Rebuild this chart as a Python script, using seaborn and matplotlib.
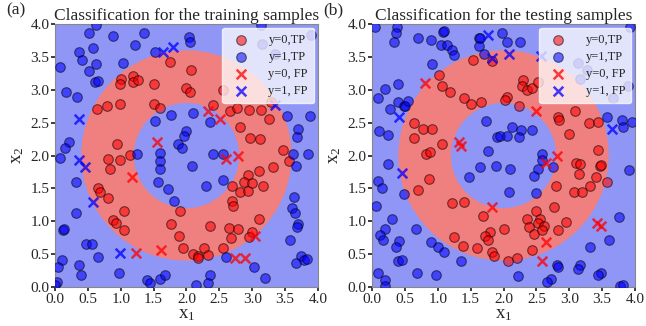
import numpy as np
import pandas as pd
import matplotlib
matplotlib.use('Agg')
import matplotlib.pyplot as plt
from matplotlib.patches import Wedge
import seaborn as sns

# ring region (true class y=0): centre and radii
ring_center = (2.0, 2.0)
ring_inner = 0.8
ring_outer = 1.6

# ---------------- training samples ----------------
train_tp0 = [(1.75,3.43),(2.07,3.30),(1.00,3.16),(0.99,3.09),(1.18,3.21),(1.19,3.12),(1.27,3.15),
             (1.51,3.09),(2.00,3.02),(0.64,2.70),(0.79,2.75),(0.99,2.79),(1.51,2.79),(1.60,2.73),
             (0.94,2.18),(1.14,2.01),(0.80,1.94),(0.99,1.93),(2.05,2.97),(2.56,2.99),(2.41,2.77),
             (2.66,2.68),(2.77,2.73),(2.95,2.69),(3.13,2.69),(3.25,2.55),(2.81,2.43),(2.96,2.26),
             (3.12,2.25),(3.28,2.82),(0.84,1.79),(0.65,1.50),(0.68,1.45),(0.81,1.36),(1.05,1.16),
             (0.88,1.02),(0.93,0.97),(1.05,0.87),(1.90,1.16),(1.76,0.96),(1.88,0.78),(1.94,0.59),
             (3.47,2.08),(3.56,1.91),(3.31,1.82),(3.11,1.77),(2.93,1.71),(2.88,1.60),(3.00,1.58),
             (3.16,1.54),(2.69,1.54),(2.81,1.44),(2.94,1.46),(2.70,1.31),(2.71,1.23),(3.11,1.04),
             (2.36,0.93),(2.64,0.90),(2.79,0.88),(2.67,0.74),(2.99,0.84),(2.95,0.76),(2.10,0.50),
             (2.17,0.47),(2.18,0.44),(2.27,0.59),(2.32,0.49),(2.55,0.59)]
train_tp1 = [(0.62,3.99),(0.51,3.87),(0.89,3.82),(1.36,3.87),(0.37,3.57),(0.58,3.63),(0.41,3.45),
             (1.22,3.68),(0.08,3.35),(0.63,3.39),(0.51,3.29),(1.03,3.40),(0.61,3.12),(0.66,3.14),
             (0.17,2.96),(0.33,2.89),(1.52,3.57),(1.52,2.52),(1.77,2.62),(2.00,2.37),(1.97,2.29),
             (1.87,2.17),(1.93,2.11),(1.59,2.04),(1.60,1.92),(1.60,1.79),(0.22,2.21),(0.15,2.11),
             (0.08,1.96),(1.24,2.03),(2.04,3.81),(2.05,3.73),(3.14,3.98),(3.90,3.83),(3.15,3.70),
             (3.35,3.55),(2.10,2.64),(2.36,2.51),(3.53,2.60),(3.88,2.60),(3.70,2.41),(3.68,2.28),
             (2.56,2.02),(3.62,2.02),(3.85,2.02),(0.32,1.59),(0.32,1.12),(0.12,0.87),(0.13,0.88),
             (0.47,0.66),(0.57,0.65),(0.66,0.46),(0.10,0.41),(0.04,0.30),(0.37,0.33),(0.39,0.18),
             (0.03,0.08),(0.00,0.03),(0.98,0.21),(1.40,0.10),(1.44,0.06),(1.60,0.12),(1.67,0.18),
             (1.57,1.60),(1.72,1.49),(1.81,1.31),(2.41,2.03),(2.08,1.84),(2.30,1.54),(2.55,1.63),
             (3.67,1.84),(3.64,1.37),(3.60,1.20),(3.65,1.12),(3.69,0.96),(3.68,0.92),(3.58,0.71),
             (3.74,0.47),(3.67,0.36),(3.79,0.41),(3.84,0.42),(3.02,0.30),(3.19,0.13),(2.36,0.18),
             (2.33,0.06),(2.14,0.03),(2.60,0.46)]
train_fp0 = [(1.55,2.20),(2.33,2.67),(2.51,2.56),(2.60,1.95),(2.79,2.00),(1.17,1.67),(1.23,0.51),
             (1.62,0.57),(3.04,0.78),(2.74,0.44),(2.89,0.44)]
train_fp1 = [(1.64,3.57),(1.79,3.65),(0.37,2.55),(0.36,1.93),(0.46,1.82),(0.58,1.30),(0.99,0.52),
             (3.35,2.77)]

# ---------------- testing samples ----------------
test_tp0 = [(1.53,3.45),(1.82,3.44),(1.02,3.22),(1.07,3.05),(1.19,2.96),(1.40,2.88),(1.51,2.79),
            (1.66,2.82),(0.64,2.49),(0.77,2.40),(0.91,2.41),(0.64,2.26),(1.07,2.17),(0.82,2.03),
            (0.88,2.05),(2.30,3.15),(2.28,3.05),(2.35,3.00),(2.44,3.02),(2.53,3.12),(2.06,2.89),
            (2.02,2.84),(2.23,2.75),(3.09,2.68),(2.83,2.58),(2.84,2.54),(3.30,2.49),(3.44,2.51),
            (3.00,2.33),(3.43,2.08),(0.87,1.65),(0.70,1.47),(1.21,1.28),(1.40,1.30),(1.69,1.08),
            (1.79,0.83),(1.72,0.78),(1.76,0.71),(1.24,0.76),(1.39,0.62),(1.59,0.60),(1.82,0.54),
            (1.86,0.47),(2.00,0.88),(3.47,1.84),(3.48,1.86),(3.10,1.89),(3.17,1.87),(3.15,1.72),
            (3.40,1.68),(3.57,1.59),(3.32,1.54),(3.07,1.45),(3.20,1.45),(2.80,1.53),(2.77,1.21),
            (2.50,1.15),(2.36,1.04),(2.55,1.04),(2.53,0.98),(2.62,0.93),(2.39,0.91),(2.47,0.81),
            (2.59,0.86),(2.83,0.86),(2.95,0.99),(2.44,0.56),(2.07,0.40),(2.20,0.44)]
test_tp1 = [(0.05,3.95),(0.38,3.96),(0.36,3.86),(0.34,3.73),(0.70,3.78),(0.90,3.76),(1.08,3.88),
            (1.10,3.90),(1.05,3.68),(1.14,3.68),(1.22,3.60),(1.25,3.53),(1.62,3.78),(1.64,3.79),
            (1.63,3.67),(1.71,3.54),(0.91,3.39),(0.40,3.09),(0.20,3.01),(0.09,2.87),(0.27,2.70),
            (0.39,2.82),(0.48,2.75),(0.50,2.76),(0.55,2.83),(1.74,2.53),(1.90,2.28),(1.95,2.29),
            (0.10,2.38),(0.25,2.31),(1.77,2.07),(1.97,3.87),(2.06,3.73),(2.25,3.72),(3.92,3.95),
            (3.14,3.40),(3.27,3.30),(3.16,3.17),(3.89,3.05),(3.67,2.87),(3.57,2.59),(3.80,2.54),
            (3.95,2.51),(3.82,2.44),(2.13,2.44),(2.27,2.39),(2.43,2.39),(2.05,2.29),(2.24,2.28),
            (2.59,2.03),(1.64,1.83),(1.89,1.84),(1.47,1.67),(0.24,1.87),(0.09,1.62),(0.15,1.50),
            (0.48,1.41),(0.06,1.23),(0.31,1.04),(0.20,0.88),(0.12,0.79),(0.16,0.72),(0.41,0.70),
            (0.36,0.61),(0.67,0.88),(0.90,0.68),(1.00,0.61),(1.10,0.54),(0.40,0.39),(0.46,0.41),
            (0.69,0.22),(0.98,0.18),(0.09,0.21),(0.20,0.11),(1.36,0.39),(0.20,0.02),(2.58,1.93),
            (2.76,1.83),(2.52,1.79),(2.47,1.69),(2.10,1.80),(2.08,1.45),(2.50,1.43),(3.91,1.78),
            (3.75,1.06),(3.61,0.72),(3.32,0.61),(2.81,0.33),(2.83,0.30),(3.16,0.33),(3.14,0.27),
            (3.49,0.22),(3.43,0.18),(2.72,0.12),(2.66,0.07),(2.22,0.16),(3.77,0.02),(3.82,0.03)]
test_fp0 = [(0.81,3.10),(1.32,2.21),(1.36,2.14),(2.50,2.68),(2.82,2.00),(1.83,1.22),(2.64,1.88),
            (2.64,0.69),(2.59,0.39),(3.42,0.98),(3.49,0.93)]
test_fp1 = [(1.76,3.83),(1.82,3.49),(0.41,2.58),(2.08,3.55),(2.57,3.51),(3.65,2.41),(0.46,1.73)]

labels = ['y=0,TP', 'y=1,TP', 'y=0, FP', 'y=1, FP']
ticks = [0.0, 0.5, 1.0, 1.5, 2.0, 2.5, 3.0, 3.5, 4.0]

sns.set_theme(style='ticks')
plt.rcParams['font.family'] = ['Liberation Serif', 'DejaVu Serif']
plt.rcParams['mathtext.fontset'] = 'custom'
plt.rcParams['mathtext.rm'] = 'Liberation Serif'
plt.rcParams['mathtext.it'] = 'Liberation Serif'

fig = plt.figure(figsize=(6.46, 3.26), dpi=100)
ax1 = fig.add_axes([0.0851, 0.1196, 0.4071, 0.8067])
ax2 = fig.add_axes([0.5759, 0.1196, 0.4071, 0.8067])


def draw(ax, tp0, tp1, fp0, fp1, title, tag):
    ax.set_facecolor('#8f96f6')
    ax.add_patch(Wedge(ring_center, ring_outer, 0, 360, width=ring_outer - ring_inner,
                       facecolor='#f08080', edgecolor='none', zorder=0))
    d0 = pd.DataFrame(tp0, columns=['x', 'y'])
    d1 = pd.DataFrame(tp1, columns=['x', 'y'])
    f0 = pd.DataFrame(fp0, columns=['x', 'y'])
    f1 = pd.DataFrame(fp1, columns=['x', 'y'])
    sns.scatterplot(data=d0, x='x', y='y', ax=ax, color='red', alpha=0.55, s=48,
                    edgecolor='black', linewidth=0.8, label=labels[0], zorder=3)
    sns.scatterplot(data=d1, x='x', y='y', ax=ax, color='blue', alpha=0.55, s=48,
                    edgecolor='black', linewidth=0.8, label=labels[1], zorder=3)
    sns.scatterplot(data=f0, x='x', y='y', ax=ax, color='red', marker='x', alpha=0.75, s=48,
                    linewidth=1.8, label=labels[2], zorder=4)
    sns.scatterplot(data=f1, x='x', y='y', ax=ax, color='blue', marker='x', alpha=0.75, s=48,
                    linewidth=1.8, label=labels[3], zorder=4)
    ax.set_xlim(0, 4)
    ax.set_ylim(0, 4)
    ax.set_xticks(ticks)
    ax.set_yticks(ticks)
    ax.tick_params(labelsize=11, length=3, pad=1)
    ax.set_xlabel('x$_1$', fontsize=13.5, labelpad=0)
    ax.set_ylabel('x$_2$', fontsize=13.5, labelpad=3)
    ax.set_title(title, fontsize=12.5, pad=2)
    ax.text(-0.185, 1.02, tag, transform=ax.transAxes, fontsize=12.5, ha='left', va='bottom')
    for sp in ax.spines.values():
        sp.set_color('#888888')
        sp.set_linewidth(0.8)
    ax.legend(loc='upper right', fontsize=9, framealpha=0.75, edgecolor='white',
              borderpad=0.5, labelspacing=0.4, handletextpad=1.2, borderaxespad=0.3)


draw(ax1, train_tp0, train_tp1, train_fp0, train_fp1, 'Classification for the training samples', '(a)')
draw(ax2, test_tp0, test_tp1, test_fp0, test_fp1, 'Classification for the testing samples', '(b)')

fig.savefig('out.png', dpi=100)
